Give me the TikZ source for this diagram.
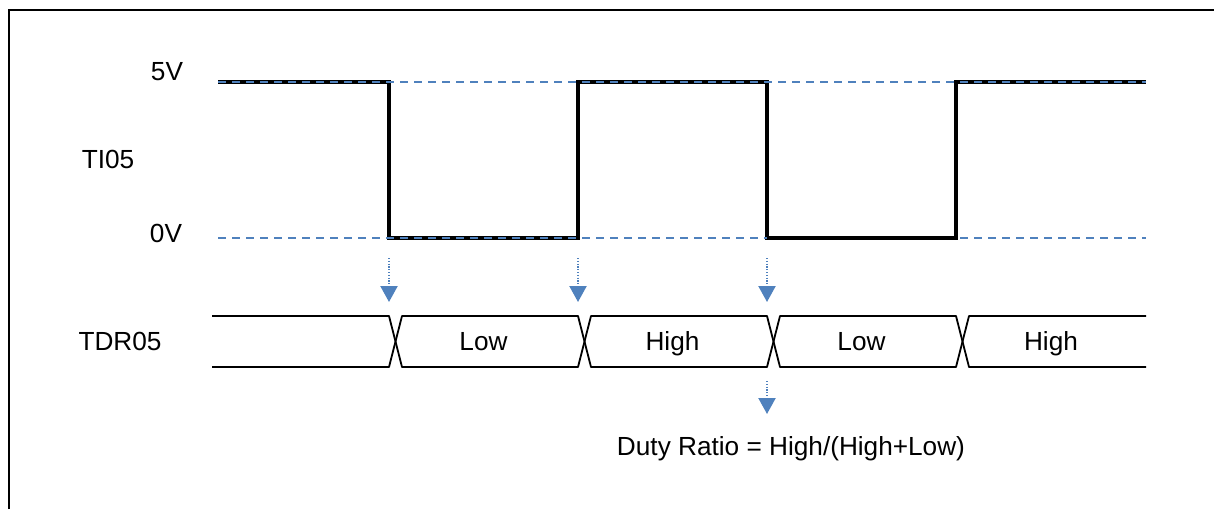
\documentclass[tikz,border=0pt]{standalone}
\usepackage{fontspec}
\setmainfont{Liberation Sans}
\usetikzlibrary{positioning,calc}
\usetikzlibrary{arrows.meta}
\definecolor{levelBlue}{RGB}{79,129,189}
\tikzset{%
  % Specifications for style of lines and labels:
    >={Triangle[width=8.5pt,length=8pt]},
    frameLine/.style = {line width=1.4pt},
    signalLine/.style = {line width=2pt, line join=miter},
    levelLine/.style = {levelBlue, line width=0.9pt, dash pattern=on 4pt off 3pt},
    busLine/.style = {line width=0.9pt, line join=round},
    edgeArrow/.style = {->, levelBlue, line width=1.1pt, dash pattern=on 0.6pt off 0.8pt},
    sigLabel/.style = {font=\fontsize{13.1}{15.5}\selectfont, inner sep=0pt, anchor=base},
}

\begin{document}
\begin{tikzpicture}[x=0.5pt,y=-0.5pt]
	\useasboundingbox (0,0) rectangle (1214,509);
	\draw[frameLine] (9,509) -- (9,10) -- (1214,10);

	\node[sigLabel] (level-high) at (167,80) {5V};
	\node[sigLabel] (ti05) at (108,168) {TI05};
	\node[sigLabel] (level-low) at (166,242) {0V};
	\node[sigLabel] (tdr05) at (120,350) {TDR05};

	% TI05 waveform
	\draw[signalLine] (218,82) -- (389,82) -- (389,238) -- (578,238) -- (578,82)
		-- (767,82) -- (767,238) -- (956,238) -- (956,82) -- (1146,82);
	\draw[levelLine] (218,82) -- (1146,82);
	\draw[levelLine] (218,238) -- (1146,238);
	\draw[signalLine] (767,238) -- (956,238);

	% TDR05 bus
	\draw[busLine] (212,316) -- (389,316) -- (402,367) -- (578,367) -- (591,316)
		-- (767,316) -- (780,367) -- (956,367) -- (969,316) -- (1146,316);
	\draw[busLine] (212,367) -- (389,367) -- (402,316) -- (578,316) -- (591,367)
		-- (767,367) -- (780,316) -- (956,316) -- (969,367) -- (1146,367);
	\foreach \a/\b/\txt [count=\i] in {389/578/Low, 578/767/High, 767/956/Low, 956/1146/High}
		\node[sigLabel] (cell-\i) at ({(\a+\b)/2},350) {\txt};

	\foreach \x [count=\i] in {389,578,767}{
		\coordinate (edge-\i) at (\x,258);
		\coordinate (capture-\i) at (\x,302);
		\draw[edgeArrow] (edge-\i) -- (capture-\i);
	}

	\node[sigLabel] (duty) at (791,455) {Duty Ratio = High/(High+Low)};
	\coordinate (duty-start) at (767,381);
	\coordinate (duty-end) at (767,414);
	\draw[edgeArrow] (duty-start) -- (duty-end);
\end{tikzpicture}
\end{document}
